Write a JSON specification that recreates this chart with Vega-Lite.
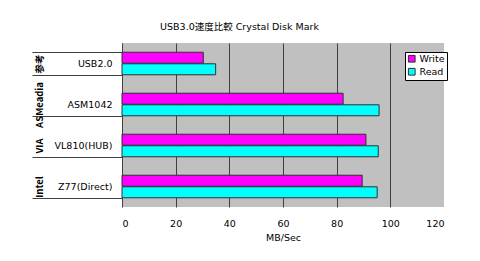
{
  "$schema": "https://vega.github.io/schema/vega-lite/v6.json",
  "width": 322,
  "height": 164,
  "padding": {"left": 31, "top": 21, "right": 10, "bottom": 10},
  "background": "white",
  "title": {
    "text": "USB3.0速度比較  Crystal Disk Mark",
    "font": "DejaVu Sans, Noto Sans CJK JP",
    "fontSize": 9.5,
    "fontWeight": "normal",
    "color": "black",
    "anchor": "middle",
    "frame": "bounds",
    "offset": 12
  },
  "config": {
    "view": {"fill": "#C0C0C0", "stroke": null},
    "axis": {"labelFont": "DejaVu Sans, Noto Sans CJK JP", "titleFont": "DejaVu Sans", "labelColor": "black", "titleColor": "black"},
    "legend": {"labelFont": "DejaVu Sans"}
  },
  "data": {
    "values": [
      {"group": "参考", "item": "USB2.0", "series": "Write", "value": 30.3},
      {"group": "参考", "item": "USB2.0", "series": "Read", "value": 34.9},
      {"group": "ASMeadia", "item": "ASM1042", "series": "Write", "value": 82.4},
      {"group": "ASMeadia", "item": "ASM1042", "series": "Read", "value": 95.8},
      {"group": "VIA", "item": "VL810(HUB)", "series": "Write", "value": 90.9},
      {"group": "VIA", "item": "VL810(HUB)", "series": "Read", "value": 95.5},
      {"group": "Intel", "item": "Z77(Direct)", "series": "Write", "value": 89.5},
      {"group": "Intel", "item": "Z77(Direct)", "series": "Read", "value": 95.1}
    ]
  },
  "layer": [
    {
      "mark": {"type": "bar", "stroke": "#303030", "strokeWidth": 1},
      "encoding": {
        "y": {
          "field": "item",
          "type": "nominal",
          "sort": ["USB2.0", "ASM1042", "VL810(HUB)", "Z77(Direct)"],
          "scale": {"paddingInner": 0.45, "paddingOuter": 0.225},
          "axis": {"title": null, "domain": false, "ticks": false, "labelPadding": 10, "labelFontSize": 9.5}
        },
        "yOffset": {"field": "series", "type": "nominal", "sort": ["Write", "Read"], "scale": {"paddingInner": 0.05}},
        "x": {
          "field": "value",
          "type": "quantitative",
          "scale": {"domain": [0, 120], "nice": false},
          "axis": {
            "title": "MB/Sec",
            "titleFontSize": 9.5,
            "titleFontWeight": "normal",
            "titlePadding": 5,
            "values": [0, 20, 40, 60, 80, 100, 120],
            "labelFontSize": 9.5,
            "labelPadding": 11,
            "ticks": false,
            "domain": false,
            "grid": true,
            "gridColor": {"condition": {"test": "datum.value == 120", "value": "transparent"}, "value": "#404040"},
            "gridOpacity": 1
          }
        },
        "color": {
          "field": "series",
          "type": "nominal",
          "scale": {"domain": ["Write", "Read"], "range": ["#FF00FF", "#00FFFF"]},
          "legend": {
            "title": null,
            "orient": "none",
            "legendX": 283,
            "legendY": 9,
            "fillColor": "white",
            "strokeColor": "black",
            "padding": 2,
            "symbolType": "square",
            "symbolSize": 45,
            "symbolStrokeColor": "#303030",
            "symbolStrokeWidth": 1,
            "labelFontSize": 9.5,
            "labelOffset": 3,
            "rowPadding": 1
          }
        }
      }
    },
    {
      "mark": {"type": "text", "text": ""},
      "encoding": {
        "y": {
          "field": "group",
          "type": "nominal",
          "sort": ["参考", "ASMeadia", "VIA", "Intel"],
          "scale": {"paddingInner": 0.45, "paddingOuter": 0.225},
          "axis": {
            "orient": "left",
            "title": null,
            "domain": false,
            "ticks": true,
            "tickBand": "extent",
            "tickSize": 90,
            "tickColor": "#404040",
            "labelAngle": 270,
            "labelAlign": "center",
            "labelBaseline": "middle",
            "labelPadding": -7,
            "labelFont": "Noto Sans CJK JP",
            "labelFontSize": 9.5,
            "labelFontWeight": "bold"
          }
        }
      }
    }
  ],
  "resolve": {"scale": {"y": "independent"}, "axis": {"y": "independent"}}
}
